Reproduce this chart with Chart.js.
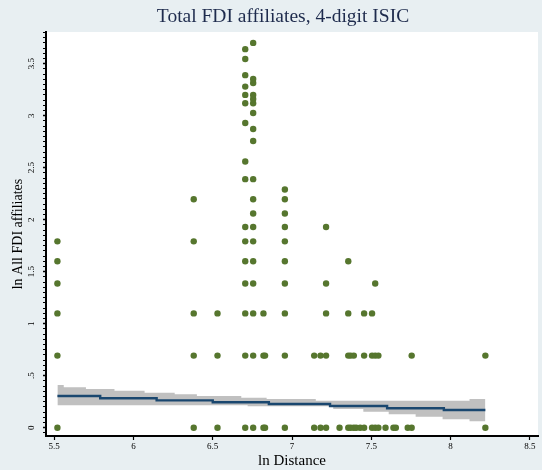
<!DOCTYPE html>
<html lang="en">
<head>
    <meta charset="UTF-8">
    <title>Total FDI affiliates, 4-digit ISIC</title>
    <script src="https://cdn.jsdelivr.net/npm/chart.js"></script>
    <style>
        body {
            margin: 0;
            padding: 0;
            background-color: #e8eff2;
        }
        canvas {
            display: block;
        }
    </style>
</head>
<body>
    <canvas id="fdiChart" width="542" height="470"></canvas>

    <script>
        // ln Distance of each column of observations
        const distX = [5.52, 6.38, 6.53, 6.705, 6.755, 6.82, 6.83, 6.955, 7.14, 7.18, 7.215, 7.30, 7.355,
                       7.37, 7.39, 7.405, 7.43, 7.455, 7.505, 7.525, 7.545, 7.59, 7.64, 7.655, 7.73, 7.755, 8.22];
        // ln All FDI affiliates observed at each distance above
        const fdiY = [
            [0, 0.693, 1.099, 1.386, 1.6, 1.792],
            [0, 0.693, 1.099, 1.792, 2.197],
            [0, 0.693, 1.099],
            [0, 0.693, 1.099, 1.386, 1.6, 1.792, 1.93, 2.39, 2.56, 2.93, 3.12, 3.2, 3.28, 3.39, 3.545, 3.64],
            [0, 0.693, 1.099, 1.386, 1.6, 1.792, 1.93, 2.06, 2.197, 2.39, 2.757, 2.872, 3.026, 3.12, 3.16, 3.2, 3.314, 3.353, 3.7],
            [0, 0.693, 1.099],
            [0, 0.693],
            [0, 0.693, 1.099, 1.386, 1.6, 1.792, 1.93, 2.06, 2.197, 2.29],
            [0, 0.693],
            [0, 0.693],
            [0, 0.693, 1.099, 1.386, 1.93],
            [0],
            [0, 0.693, 1.099, 1.6],
            [0, 0.693],
            [0, 0.693],
            [0],
            [0],
            [0, 0.693, 1.099],
            [0, 0.693, 1.099],
            [0, 0.693, 1.386],
            [0, 0.693],
            [0],
            [0],
            [0],
            [0],
            [0, 0.693],
            [0, 0.693]
        ];

        // stepped fit line
        const fitX = [5.52, 5.79, 6.146, 6.5, 6.854, 7.24, 7.6, 7.958, 8.22];
        const fitY = [0.305, 0.283, 0.263, 0.244, 0.228, 0.209, 0.187, 0.17, 0.17];

        // confidence band
        const bandX = [5.52, 5.56, 5.70, 5.88, 6.07, 6.26, 6.40, 6.68, 6.72, 6.84, 7.15, 7.26, 7.45, 7.61, 7.78, 7.95, 8.12, 8.22];
        const bandHi = [0.41, 0.388, 0.372, 0.356, 0.337, 0.321, 0.305, 0.288, 0.288, 0.276, 0.26, 0.26, 0.26, 0.26, 0.26, 0.26, 0.276, 0.276];
        const bandLo = [0.215, 0.215, 0.215, 0.215, 0.215, 0.215, 0.215, 0.215, 0.205, 0.205, 0.205, 0.18, 0.154, 0.129, 0.106, 0.081, 0.062, 0.062];

        const yTickValues = [0, 0.5, 1, 1.5, 2, 2.5, 3, 3.5];
        const yTickLabels = ['0', '.5', '1', '1.5', '2', '2.5', '3', '3.5'];
        const xTickLabels = ['5.5', '6', '6.5', '7', '7.5', '8', '8.5'];

        const titleText = 'Total FDI affiliates, 4-digit ISIC';
        const serif = '"Liberation Serif", "DejaVu Serif", serif';

        const points = [];
        distX.forEach((x, i) => fdiY[i].forEach(y => points.push({ x: x, y: y })));

        const pairs = (xs, ys) => xs.map((x, i) => ({ x: x, y: ys[i] }));

        const isMajor = v => Math.abs(v * 2 - Math.round(v * 2)) < 1e-6;

        // background, plot region, rotated y labels and title
        const framePlugin = {
            id: 'frame',
            beforeDraw(chart) {
                const { ctx, chartArea: a } = chart;
                ctx.save();
                ctx.fillStyle = '#e8eff2';
                ctx.fillRect(0, 0, chart.width, chart.height);
                ctx.fillStyle = '#ffffff';
                ctx.fillRect(a.left, a.top, a.right - a.left, a.bottom - a.top);
                ctx.restore();
            },
            afterDraw(chart) {
                const { ctx } = chart;
                const yScale = chart.scales.y;
                ctx.save();
                ctx.fillStyle = '#000000';
                ctx.font = '9px ' + serif;
                ctx.textAlign = 'center';
                ctx.textBaseline = 'middle';
                yTickValues.forEach((v, i) => {
                    ctx.save();
                    ctx.translate(32, yScale.getPixelForValue(v));
                    ctx.rotate(-Math.PI / 2);
                    ctx.fillText(yTickLabels[i], 0, 0);
                    ctx.restore();
                });
                ctx.fillStyle = '#1e2b4d';
                ctx.font = '19.5px ' + serif;
                ctx.fillText(titleText, 283, 17);
                ctx.restore();
            }
        };

        const ctx = document.getElementById('fdiChart').getContext('2d');
        const fdiChart = new Chart(ctx, {
            type: 'line',
            data: {
                datasets: [
                    {
                        label: 'ln All FDI affiliates',
                        data: points,
                        showLine: false,
                        pointRadius: 3.2,
                        pointBorderWidth: 0,
                        pointBackgroundColor: '#56762e',
                        order: 0
                    },
                    {
                        label: 'fit',
                        data: pairs(fitX, fitY),
                        stepped: true,
                        borderColor: '#1a476f',
                        borderWidth: 2.4,
                        pointRadius: 0,
                        fill: false,
                        order: 1
                    },
                    {
                        label: 'upper',
                        data: pairs(bandX, bandHi),
                        stepped: true,
                        borderWidth: 0,
                        borderColor: 'rgba(0,0,0,0)',
                        backgroundColor: '#c0c0c0',
                        pointRadius: 0,
                        fill: '+1',
                        order: 2
                    },
                    {
                        label: 'lower',
                        data: pairs(bandX, bandLo),
                        stepped: true,
                        borderWidth: 0,
                        borderColor: 'rgba(0,0,0,0)',
                        pointRadius: 0,
                        fill: false,
                        order: 3
                    }
                ]
            },
            options: {
                responsive: false,
                animation: false,
                events: [],
                layout: {
                    padding: { top: 32, right: 0, bottom: 0, left: 0 }
                },
                plugins: {
                    legend: { display: false },
                    tooltip: { enabled: false },
                    title: { display: false }
                },
                scales: {
                    x: {
                        type: 'linear',
                        min: 5.448,
                        max: 8.552,
                        afterFit: s => { s.height = 34; },
                        border: { display: true, color: '#000000', width: 2 },
                        grid: { drawOnChartArea: false, drawTicks: true, tickLength: 4, tickColor: '#000000', tickWidth: 1.2 },
                        ticks: {
                            stepSize: 0.5,
                            includeBounds: false,
                            autoSkip: false,
                            maxRotation: 0,
                            padding: 1,
                            color: '#000000',
                            font: { family: serif, size: 9 },
                            callback: (v) => xTickLabels[Math.round((v - 5.5) * 2)] ?? ''
                        },
                        title: {
                            display: true,
                            text: 'ln Distance',
                            color: '#000000',
                            font: { family: serif, size: 15 },
                            padding: { top: 0, bottom: 0 }
                        }
                    },
                    y: {
                        type: 'linear',
                        min: -0.08,
                        max: 3.805,
                        afterFit: s => { s.width = 46; },
                        border: { display: true, color: '#000000', width: 2 },
                        grid: {
                            drawOnChartArea: false,
                            drawTicks: true,
                            tickLength: 3,
                            tickColor: '#000000',
                            tickWidth: c => (c.tick && isMajor(c.tick.value)) ? 1.4 : 1
                        },
                        ticks: {
                            display: false,
                            stepSize: 0.05,
                            includeBounds: false,
                            autoSkip: false
                        },
                        title: {
                            display: true,
                            text: 'ln All FDI affiliates',
                            color: '#000000',
                            font: { family: serif, size: 14 },
                            padding: { top: 10, bottom: 0 }
                        }
                    }
                }
            },
            plugins: [framePlugin]
        });
    </script>
</body>
</html>
